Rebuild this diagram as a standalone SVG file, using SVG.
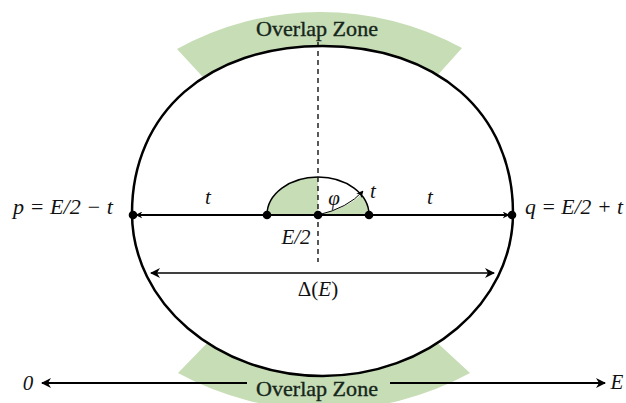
<svg xmlns="http://www.w3.org/2000/svg" width="626" height="403" viewBox="0 0 626 403">
<style>
.zone{fill:#c6ddb6;stroke:none}
.zt{font-family:"Liberation Serif","DejaVu Serif",serif;font-size:21px;fill:#16261a;stroke:#16261a;stroke-width:0.35}
.m{font-family:"Liberation Serif","DejaVu Serif",serif;font-style:italic;font-size:21px;fill:#111}
.up{font-style:normal}
.dot{fill:#000}
.ln{stroke:#000;fill:none}
</style>
<defs>
<marker id="ah" viewBox="0 0 10 10" refX="9" refY="5" markerWidth="7" markerHeight="7" orient="auto-start-reverse" markerUnits="userSpaceOnUse">
<path d="M0,0 L10,5 L0,10 L3,5 Z" fill="#000"/>
</marker>
<marker id="ah2" viewBox="0 0 10 10" refX="9" refY="5" markerWidth="12" markerHeight="10" orient="auto-start-reverse" markerUnits="userSpaceOnUse">
<path d="M0,0 L10,5 L0,10 L3,5 Z" fill="#000"/>
</marker>
</defs>
<g id="overlap-top">
<path class="zone" d="M177,49 A296,296 0 0 1 462,48 L428,86 A227,227 0 0 0 213,88 Z"/>
</g>
<g id="overlap-bottom">
<path class="zone" d="M178,373 A306,306 0 0 0 470,373 L431,337 A227,227 0 0 1 213,337 Z"/>
</g>
<g id="ellipse">
<path d="M132,213 C132,112.8 208.2,46 322.5,46 C436.8,46 513,112.8 513,213 C513,303 427.7,376 322.5,376 C217.3,376 132,303 132,213 Z" fill="#fff" stroke="#000" stroke-width="2.5"/>
</g>
<g id="semicircle">
<path class="zone" d="M267,215 A51,38 0 0 1 318,177 L318,215 Z"/>
<path class="zone" d="M318,215 Q348,208 361,194.5 A51,38 0 0 1 369,215 Z"/>
<path class="ln" stroke-width="1.5" d="M267,215 A51,38 0 0 1 369,215"/>
</g>
<g id="connectors">
<line class="ln" x1="318" y1="42" x2="318" y2="262" stroke-width="1.3" stroke-dasharray="5,4"/>
<line class="ln" x1="136" y1="215" x2="509" y2="215" stroke-width="2.2" marker-start="url(#ah)" marker-end="url(#ah)"/>
<path class="ln" d="M318,215 Q348,208 363,191" stroke-width="1" marker-end="url(#ah)"/>
<line class="ln" x1="151" y1="273" x2="494" y2="273" stroke-width="1.4" marker-start="url(#ah2)" marker-end="url(#ah2)"/>
<line class="ln" x1="42" y1="383" x2="247" y2="383" stroke-width="2" marker-start="url(#ah2)"/>
<line class="ln" x1="390" y1="383" x2="605" y2="383" stroke-width="2" marker-end="url(#ah2)"/>
</g>
<g id="points">
<circle class="dot" cx="133" cy="215" r="4.3"/>
<circle class="dot" cx="267" cy="215" r="4.3"/>
<circle class="dot" cx="318" cy="215" r="4.3"/>
<circle class="dot" cx="369" cy="215" r="4.3"/>
<circle class="dot" cx="512" cy="215" r="4.3"/>
</g>
<g id="labels">
<text class="zt" x="317" y="36" text-anchor="middle" textLength="122" lengthAdjust="spacingAndGlyphs">Overlap Zone</text>
<text class="zt" x="317" y="396" text-anchor="middle" textLength="122" lengthAdjust="spacingAndGlyphs">Overlap Zone</text>
<text class="m" x="13" y="214" textLength="100" lengthAdjust="spacingAndGlyphs">p = E/2 − t</text>
<text class="m" x="525" y="214" textLength="98" lengthAdjust="spacingAndGlyphs">q = E/2 + t</text>
<text class="m" x="208" y="204" text-anchor="middle">t</text>
<text class="m" x="430" y="204" text-anchor="middle">t</text>
<text class="m" x="373" y="198" text-anchor="middle">t</text>
<text class="m" x="334" y="205" text-anchor="middle">φ</text>
<text class="m" x="296" y="244" text-anchor="middle">E/2</text>
<text class="m" x="318" y="296" text-anchor="middle"><tspan class="up">Δ(</tspan>E<tspan class="up">)</tspan></text>
<text class="m" x="28" y="390" text-anchor="middle">0</text>
<text class="m" x="617" y="389" text-anchor="middle">E</text>
</g>
</svg>
